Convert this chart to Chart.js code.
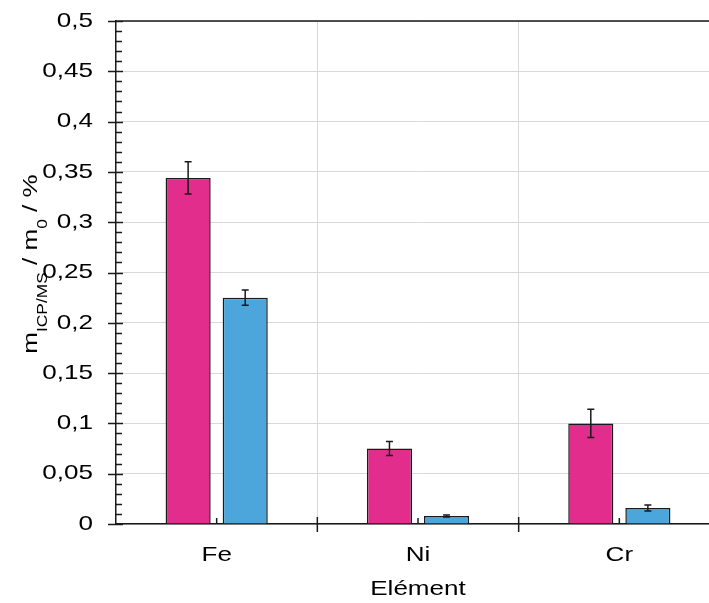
<!DOCTYPE html>
<html>
<head>
<meta charset="utf-8">
<script src="https://cdn.jsdelivr.net/npm/chart.js@4/dist/chart.umd.min.js"></script>
<style>
  html, body { margin: 0; padding: 0; background: #fff; overflow: hidden; }
  canvas { display: block; }
</style>
</head>
<body>
<canvas id="chart" width="722" height="603"></canvas>
<script>
'use strict';

// data
let elements = ['Fe', 'Ni', 'Cr'];
let seriesA = [0.344, 0.075, 0.100];
let errorsA = [0.016, 0.007, 0.014];
let seriesB = [0.225, 0.008, 0.016];
let errorsB = [0.0075, 0.001, 0.003];
let yTickLabels = ['0', '0,05', '0,1', '0,15', '0,2', '0,25', '0,3', '0,35', '0,4', '0,45', '0,5'];

let pink = '#E32D8C';
let blue = '#4CA6DC';
let edge = '#1a1a1a';
let font = 'Arial, "Liberation Sans", sans-serif';
let stretch = 1.24; // the text in the picture is drawn wider than normal

let ctx = document.getElementById('chart').getContext('2d');

// widen every text draw around its anchor point, so alignment still holds
let plainFillText = ctx.fillText.bind(ctx);
ctx.fillText = function (text, x, y, maxWidth) {
  ctx.save();
  ctx.translate(x, y);
  ctx.scale(stretch, 1);
  plainFillText(text, 0, 0);
  ctx.restore();
};

// draws error bars, tick marks, the top border and the y title
const extras = {
  id: 'extras',
  afterDatasetsDraw(chart) {
    let c = chart.ctx;
    let y = chart.scales.y;
    c.save();
    c.strokeStyle = edge;
    c.lineWidth = 1.5;
    chart.data.datasets.forEach((ds, i) => {
      let meta = chart.getDatasetMeta(i);
      meta.data.forEach((bar, j) => {
        let top = y.getPixelForValue(ds.data[j] + ds.errors[j]);
        let bot = y.getPixelForValue(ds.data[j] - ds.errors[j]);
        c.beginPath();
        c.moveTo(bar.x, top);
        c.lineTo(bar.x, bot);
        c.moveTo(bar.x - 3.5, top);
        c.lineTo(bar.x + 3.5, top);
        c.moveTo(bar.x - 3.5, bot);
        c.lineTo(bar.x + 3.5, bot);
        c.stroke();
      });
    });
    c.restore();
  },
  afterDraw(chart) {
    let c = chart.ctx;
    let x = chart.scales.x;
    let y = chart.scales.y;
    let area = chart.chartArea;
    c.save();
    c.strokeStyle = edge;
    c.lineWidth = 1.5;
    c.beginPath();
    // top border
    c.moveTo(area.left, area.top);
    c.lineTo(area.right, area.top);
    // y ticks: majors cross the axis, minors inside
    for (let k = 0; k <= 50; k++) {
      let py = Math.round(y.getPixelForValue(k / 100)) + 0.5;
      if (k % 5 === 0) {
        c.moveTo(area.left - 8, py);
        c.lineTo(area.left + 7, py);
      } else {
        c.moveTo(area.left, py);
        c.lineTo(area.left + 6, py);
      }
    }
    // x ticks: majors between categories, small ones at centers
    for (let k = 0; k < elements.length; k++) {
      let cx = x.getPixelForValue(k);
      c.moveTo(cx, area.bottom);
      c.lineTo(cx, area.bottom - 6);
      if (k > 0) {
        let bx = (cx + x.getPixelForValue(k - 1)) / 2;
        c.moveTo(bx, area.bottom - 7);
        c.lineTo(bx, area.bottom + 8);
      }
    }
    c.stroke();

    // y title with subscripts
    c.fillStyle = '#000';
    c.textAlign = 'left';
    c.textBaseline = 'alphabetic';
    let parts = [
      ['m', 21, 0], ['ICP/MS', 14, 10], [' / m', 21, 0], ['0', 14, 10], [' / %', 21, 0]
    ];
    let total = 0;
    parts.forEach(p => {
      c.font = p[1] + 'px ' + font;
      total += c.measureText(p[0]).width * stretch;
    });
    c.translate(37, 264);
    c.rotate(-Math.PI / 2);
    let pos = -total / 2;
    parts.forEach(p => {
      c.font = p[1] + 'px ' + font;
      c.fillText(p[0], pos, p[2]);
      pos += c.measureText(p[0]).width * stretch;
    });
    c.restore();
  }
};

new Chart(ctx, {
  type: 'bar',
  data: {
    labels: elements,
    datasets: [{
      data: seriesA,
      errors: errorsA,
      backgroundColor: pink,
      borderColor: edge,
      borderWidth: 1.5,
      borderSkipped: 'bottom'
    }, {
      data: seriesB,
      errors: errorsB,
      backgroundColor: blue,
      borderColor: edge,
      borderWidth: 1.5,
      borderSkipped: 'bottom'
    }]
  },
  plugins: [extras],
  options: {
    responsive: false,
    animation: false,
    events: [],
    layout: { padding: { top: 21, right: 2, left: 0, bottom: 0 } },
    categoryPercentage: 0.567,
    barPercentage: 0.79,
    plugins: {
      legend: { display: false },
      tooltip: { enabled: false }
    },
    scales: {
      x: {
        afterFit: scale => {
          scale.height = 79;
          scale.paddingLeft = 0;
          scale.paddingRight = 0;
        },
        grid: { offset: true, color: '#d9d9d9', lineWidth: 1, drawTicks: false },
        border: { color: edge, width: 1.5 },
        ticks: { padding: 19, color: '#000', font: { family: font, size: 21 } },
        title: {
          display: true,
          text: 'Elément',
          color: '#000',
          padding: { top: 0, bottom: 1 },
          font: { family: font, size: 21 }
        }
      },
      y: {
        min: 0,
        max: 0.5,
        afterFit: scale => {
          scale.width = 116;
          scale.paddingTop = 0;
          scale.paddingBottom = 0;
        },
        grid: { color: '#d9d9d9', lineWidth: 1, drawTicks: false },
        border: { color: edge, width: 1.5 },
        ticks: {
          stepSize: 0.05,
          padding: 23,
          color: '#000',
          font: { family: font, size: 21 },
          callback: (v, i) => yTickLabels[i]
        }
      }
    }
  }
});
</script>
</body>
</html>
